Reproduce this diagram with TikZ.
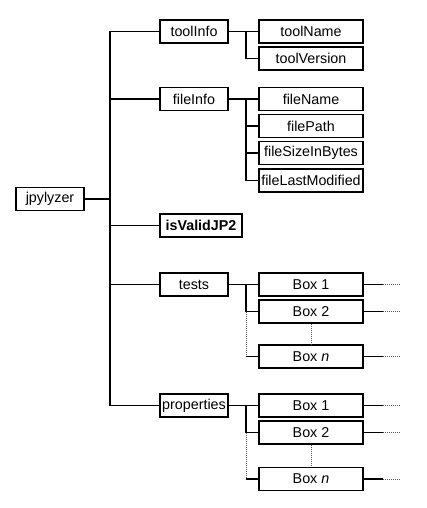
\documentclass[tikz,border=0pt]{standalone}
\usepackage{fontspec}
\setmainfont{Liberation Sans}
\begin{document}
\begin{tikzpicture}[x=1pt,y=-1pt,
  box/.style={draw,line width=1.5pt,inner sep=0pt,minimum height=23pt,font=\fontsize{14.3}{16}\selectfont},
  pbox/.style={box,minimum width=68pt},
  cbox/.style={box,minimum width=104pt},
  ln/.style={line width=1.5pt},
  dot/.style={line width=1pt,gray!70!black,dash pattern=on 1pt off 1pt}]
\useasboundingbox (0,0) rectangle (426,508);
\node[pbox] (jp) at (50,199) {jpylyzer};
\node[pbox] (ti) at (194,31.5) {toolInfo};
\node[pbox] (fi) at (194,99) {fileInfo};
\node[box,minimum width=82pt,font=\fontsize{14.3}{16}\selectfont\bfseries] (iv) at (201,225.5) {isValidJP2};
\node[pbox] (te) at (194,284.5) {tests};
\node[pbox] (pr) at (194,405.5) {properties};
\node[cbox] (tn) at (311,31.5) {toolName};
\node[cbox] (tv) at (311,58.5) {toolVersion};
\node[cbox] (fn) at (311,99) {fileName};
\node[cbox] (fp) at (311,126) {filePath};
\node[cbox] (fs) at (311,153) {fileSizeInBytes};
\node[cbox] (fl) at (311,180.5) {fileLastModified};
\node[cbox] (t1) at (311,284.5) {Box 1};
\node[cbox] (t2) at (311,311.5) {Box 2};
\node[cbox] (tn3) at (311,356.5) {Box \textit{n}};
\node[cbox] (p1) at (311,405.5) {Box 1};
\node[cbox] (p2) at (311,432.5) {Box 2};
\node[cbox] (pn) at (311,479) {Box \textit{n}};
\coordinate (tr) at (110,0);
\coordinate (sb) at (246,0);
% main trunk
\draw[ln] (ti.west) -| (tr |- pr.west) -- (pr.west);
\draw[ln] (jp.east) -- (jp.east -| tr);
\draw[ln] (fi.west) -- (fi.west -| tr);
\draw[ln] (iv.west) -- (iv.west -| tr);
\draw[ln] (te.west) -- (te.west -| tr);
% toolInfo
\draw[ln] (ti.east) -- (tn.west);
\draw[ln] (tn.west -| sb) |- (tv.west);
% fileInfo
\draw[ln] (fi.east) -- (fn.west);
\draw[ln] (fn.west -| sb) |- (fl.west);
\draw[ln] (fp.west -| sb) -- (fp.west);
\draw[ln] (fs.west -| sb) -- (fs.west);
% tests
\draw[ln] (te.east) -- (t1.west);
\draw[ln] (t1.west -| sb) |- (t2.west);
\draw[dot] (t2.west -| sb) -- (tn3.west -| sb);
\draw[ln] (tn3.west -| sb) -- (tn3.west);
\draw[dot] (t2.south) -- (tn3.north);
% properties
\draw[ln] (pr.east) -- (p1.west);
\draw[ln] (p1.west -| sb) |- (p2.west);
\draw[dot] (p2.west -| sb) -- (pn.west -| sb);
\draw[ln] (pn.west -| sb) -- (pn.west);
\draw[dot] (p2.south) -- (pn.north);
% tails
\foreach \b in {t1,t2,tn3,p1,p2,pn}{
  \draw[ln] (\b.east) -- ++(19,0) coordinate (\b-m);
  \draw[dot] (\b-m) -- ++(17,0) coordinate (\b-e);
}
\end{tikzpicture}
\end{document}
